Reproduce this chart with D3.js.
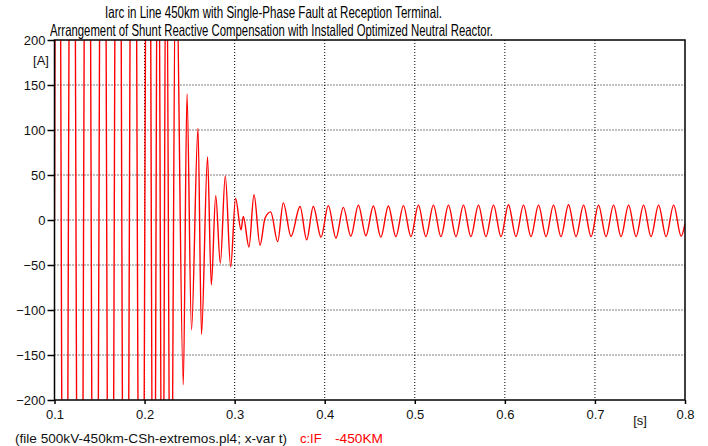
<!DOCTYPE html>
<html>
<head>
<meta charset="utf-8">
<script src="https://cdn.jsdelivr.net/npm/d3@7"></script>
<style>
  body { margin: 0; background: #fff; }
  text { font-family: "Liberation Sans", Arial, sans-serif; }
</style>
</head>
<body>
<div id="chart"></div>
<script>
// axis ticks
const xTicks = [0.1, 0.2, 0.3, 0.4, 0.5, 0.6, 0.7, 0.8]
const yTicks = [-200, -150, -100, -50, 0, 50, 100, 150, 200]

// fault + transient part (peaks/troughs, big ones are clipped)
const transT = [0.1000, 0.1036, 0.1113, 0.1196, 0.1281, 0.1365, 0.1450, 0.1537, 0.1622, 0.1705,
	0.1788, 0.1875, 0.1962, 0.2042, 0.2103, 0.2149, 0.2199, 0.2240, 0.2290, 0.2347,
	0.2430, 0.2471, 0.2521, 0.2593, 0.2632, 0.2699, 0.2741, 0.2790, 0.2841, 0.2896,
	0.2956, 0.3010, 0.3071, 0.3096, 0.3159, 0.3215, 0.3282, 0.3337, 0.3400, 0.3478,
	0.3540, 0.3626, 0.3726, 0.3800, 0.3873, 0.3959, 0.4040, 0.4125]
const transV = [0, 900, -900, 900, -900, 900, -900, 900, -900, 900,
	-850, 850, -800, 750, -600, 500, -500, 400, -450, 320,
	-183, 140, -122, 102, -127, 70, -72, 27, -48, 49,
	-52, 24, -11, 4, -30, 28, -28, 2, 9, -24,
	19, -18, 15, -22, 15, -19, 16, -20]

// steady state 60 Hz oscillation
const peakT = [0.4207, 0.4374, 0.4540, 0.4707, 0.4874, 0.5040, 0.5207, 0.5374, 0.5540, 0.5707,
	0.5874, 0.6040, 0.6207, 0.6374, 0.6540, 0.6707, 0.6874, 0.7040, 0.7207, 0.7374,
	0.7540, 0.7707, 0.7874]
const peakV = [14, 16.5, 15.5, 15.5, 16, 16.5, 16.5, 16.5, 16.5, 16.5,
	16.5, 17, 16.5, 16.5, 16.5, 17, 16.5, 16.5, 16.5, 16.5,
	16.5, 16.5, 16.5]
const troughT = [0.4290, 0.4457, 0.4623, 0.4790, 0.4957, 0.5123, 0.5290, 0.5457, 0.5623, 0.5790,
	0.5957, 0.6123, 0.6290, 0.6457, 0.6623, 0.6790, 0.6957, 0.7123, 0.7290, 0.7457,
	0.7623, 0.7790, 0.7957]
const troughV = [-18, -17.5, -19, -18.5, -18.5, -18.5, -18.5, -18.5, -18.5, -18.5,
	-18.5, -18.5, -18.5, -18.5, -18.5, -18.5, -18.5, -18.5, -18.5, -18.5,
	-18.5, -18.5, -18]
const endT = 0.8, endV = -4

const W = 708, H = 446
const pLeft = 54.5, pRight = 685, pTop = 40, pBottom = 400

const svg = d3.select("#chart").append("svg")
	.attr("width", W)
	.attr("height", H)

const x = d3.scaleLinear().domain([0.1, 0.8]).range([pLeft, pRight])
const y = d3.scaleLinear().domain([-200, 200]).range([pBottom, pTop])

// build the series
let pts = transT.map((t, i) => [t, transV[i]])
peakT.forEach((t, i) => {
	pts.push([t, peakV[i]])
	pts.push([troughT[i], troughV[i]])
})
pts.push([endT, endV])

// grid
svg.append("g")
	.selectAll("line")
	.data(yTicks.filter(d => d > -200 && d < 200))
	.enter().append("line")
	.attr("x1", pLeft).attr("x2", pRight)
	.attr("y1", d => y(d)).attr("y2", d => y(d))
	.attr("stroke", "#000")
	.attr("stroke-dasharray", "1,2")

svg.append("g")
	.selectAll("line")
	.data(xTicks.filter(d => d > 0.1 && d < 0.8))
	.enter().append("line")
	.attr("y1", pTop).attr("y2", pBottom)
	.attr("x1", d => x(d)).attr("x2", d => x(d))
	.attr("stroke", "#000")
	.attr("stroke-dasharray", "1,2")

// signal
svg.append("clipPath").attr("id", "clip")
	.append("rect")
	.attr("x", pLeft).attr("y", pTop)
	.attr("width", pRight - pLeft).attr("height", pBottom - pTop)

const line = d3.line()
	.x(d => x(d[0]))
	.y(d => y(d[1]))
	.curve(d3.curveMonotoneX)

svg.append("path")
	.datum(pts)
	.attr("clip-path", "url(#clip)")
	.attr("fill", "none")
	.attr("stroke", "#ff0000")
	.attr("stroke-width", 1.4)
	.attr("d", line)

// frame
svg.append("rect")
	.attr("x", pLeft).attr("y", pTop)
	.attr("width", pRight - pLeft).attr("height", pBottom - pTop)
	.attr("fill", "none")
	.attr("stroke", "#000")
	.attr("stroke-width", 1.5)

// axes
const yAxis = svg.append("g")
	.attr("transform", `translate(${pLeft},0)`)
	.call(d3.axisLeft(y).tickValues(yTicks).tickSize(7).tickPadding(2))
yAxis.select(".domain").remove()

const xAxis = svg.append("g")
	.attr("transform", `translate(0,${pBottom})`)
	.call(d3.axisBottom(x).tickValues(xTicks).tickFormat(d3.format(".1f")).tickSize(4).tickPadding(6))
xAxis.select(".domain").remove()

svg.selectAll(".tick line").attr("stroke", "#000").attr("stroke-width", 1.5)
svg.selectAll(".tick text")
	.attr("fill", "#111")
	.style("font-size", "13px")
	.style("font-family", "'Liberation Sans', Arial, sans-serif")

// unit labels
svg.append("text").attr("x", 41).attr("y", 65)
	.attr("text-anchor", "middle")
	.style("font-size", "13px").attr("fill", "#111")
	.text("[A]")
svg.append("text").attr("x", 640).attr("y", 425)
	.attr("text-anchor", "middle")
	.style("font-size", "13px").attr("fill", "#111")
	.text("[s]")

// title
svg.append("text").attr("x", 105).attr("y", 17.5)
	.attr("textLength", 337).attr("lengthAdjust", "spacingAndGlyphs")
	.style("font-size", "16.5px").attr("fill", "#000")
	.text("Iarc in Line 450km with Single-Phase Fault at Reception Terminal.")
svg.append("text").attr("x", 50).attr("y", 36)
	.attr("textLength", 443).attr("lengthAdjust", "spacingAndGlyphs")
	.style("font-size", "16.5px").attr("fill", "#000")
	.text("Arrangement of Shunt Reactive Compensation with Installed Optimized Neutral Reactor.")

// footer
svg.append("text").attr("x", 15).attr("y", 443)
	.attr("textLength", 272).attr("lengthAdjust", "spacingAndGlyphs")
	.style("font-size", "13px").attr("fill", "#111")
	.text("(file 500kV-450km-CSh-extremos.pl4; x-var t)")
svg.append("text").attr("x", 300).attr("y", 443)
	.style("font-size", "13px").attr("fill", "#ff0000")
	.text("c:IF")
svg.append("text").attr("x", 335).attr("y", 443)
	.attr("textLength", 48).attr("lengthAdjust", "spacingAndGlyphs")
	.style("font-size", "13px").attr("fill", "#ff0000")
	.text("-450KM")
</script>
</body>
</html>
